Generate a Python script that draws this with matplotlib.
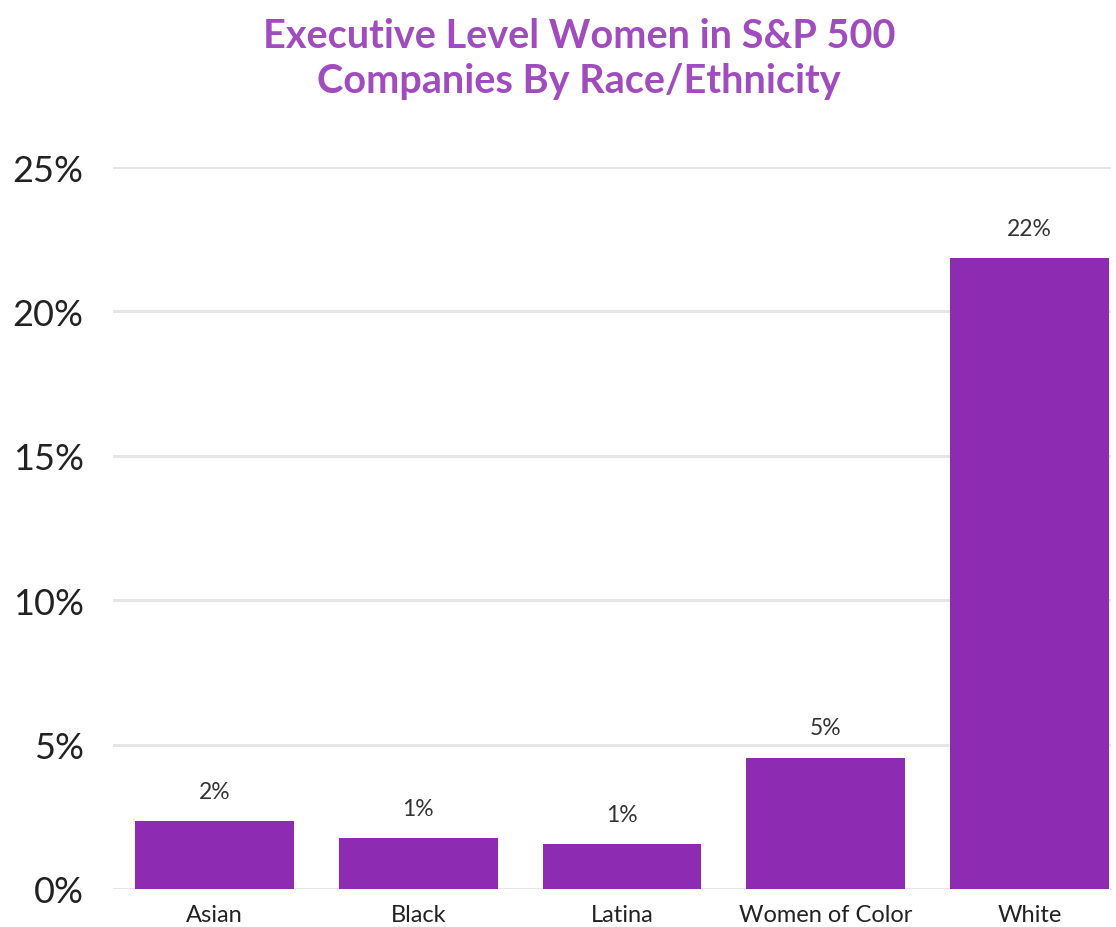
import matplotlib
matplotlib.use("Agg")
import matplotlib.pyplot as plt

# data
categories = ["Asian", "Black", "Latina", "Women of Color", "White"]
values = [2.35, 1.75, 1.55, 4.55, 21.85]
value_labels = ["2%", "1%", "1%", "5%", "22%"]
y_ticks = [0, 5, 10, 15, 20, 25]

bar_color = "#8E2BB3"
title_color = "#A04CBF"

plt.rcParams["font.family"] = ["Lato", "DejaVu Sans"]

fig = plt.figure(figsize=(11.16, 9.28), dpi=100)
ax = fig.add_axes([0.101, 1 - 890 / 928, 0.8945, 722 / 928])

x = list(range(len(categories)))
bars = ax.bar(x, values, width=0.78, color=bar_color, zorder=3)

for rect, lab in zip(bars, value_labels):
    ax.annotate(lab, (rect.get_x() + rect.get_width() / 2, rect.get_height()),
                xytext=(0, 14), textcoords="offset points",
                ha="center", va="bottom", fontsize=16.5, color="#333333")

ax.set_xlim(-0.5, 4.4)
ax.set_ylim(0, 25)
ax.set_yticks(y_ticks)
ax.set_yticklabels([f"{t}%" for t in y_ticks])
ax.set_xticks(x)
ax.set_xticklabels(categories)

ax.grid(axis="y", color="#E6E6E6", linewidth=2.2, zorder=0)
ax.set_axisbelow(True)
for s in ax.spines.values():
    s.set_visible(False)
ax.tick_params(axis="y", length=0, pad=21, labelsize=26, labelcolor="#222222")
ax.tick_params(axis="x", length=0, pad=11, labelsize=17, labelcolor="#222222")

fig.text(0.519, 1 - 59 / 928, "Executive Level Women in S&P 500\nCompanies By Race/Ethnicity",
         ha="center", va="center", fontsize=28.5, fontweight="bold", color=title_color,
         linespacing=1.3)

fig.savefig("out.png", dpi=100)
